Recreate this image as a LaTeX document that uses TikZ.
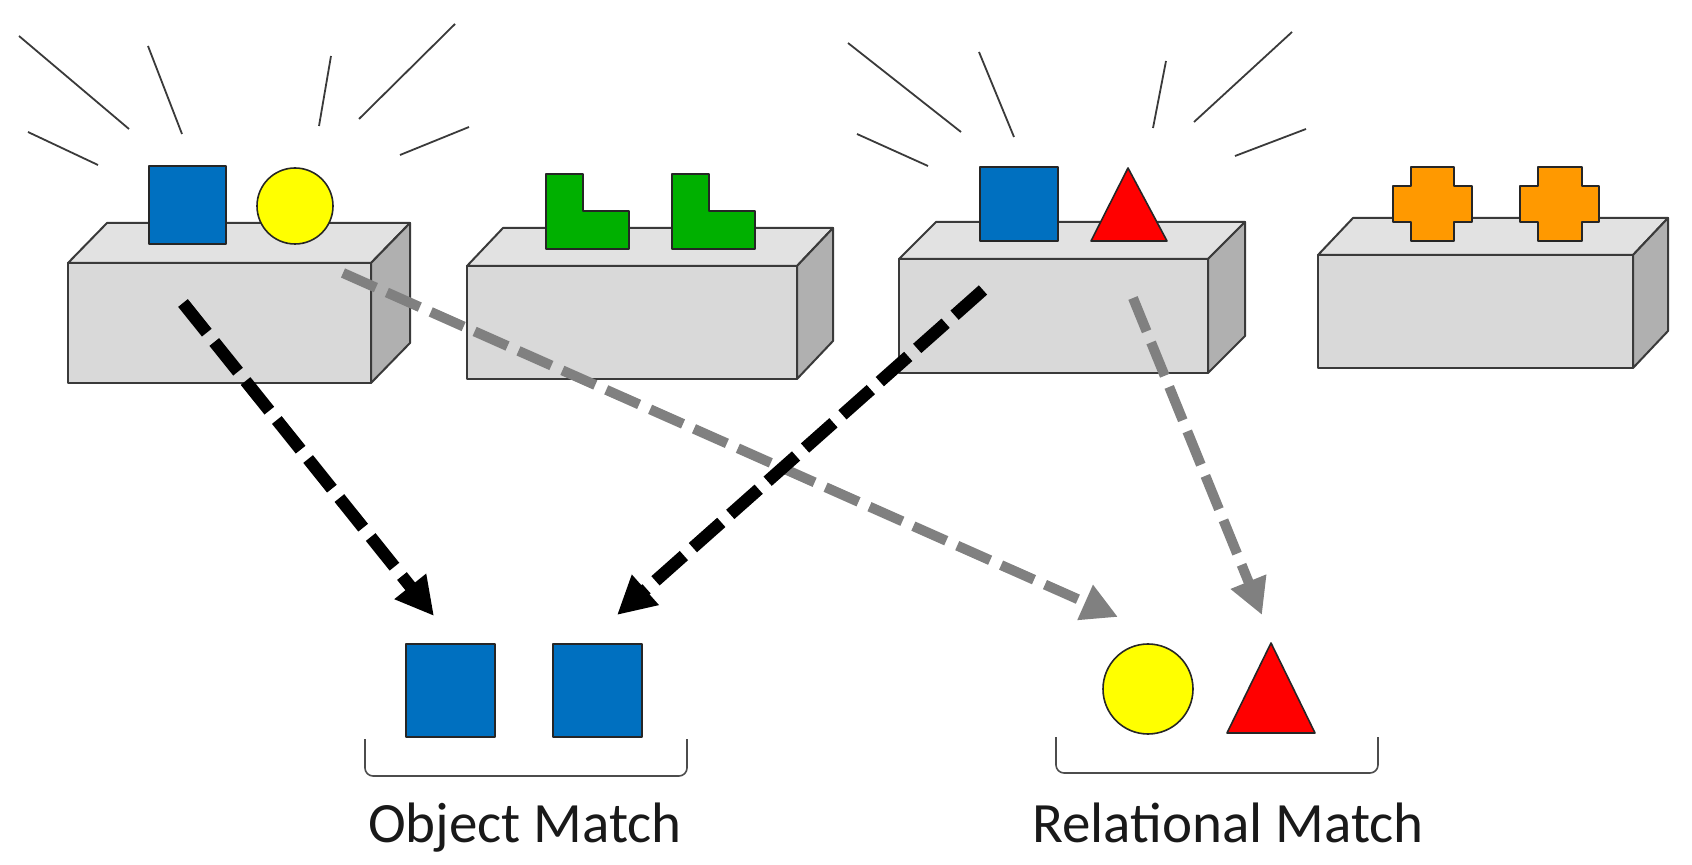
\documentclass[tikz,border=0pt]{standalone}
\usepackage{fontspec}
\setmainfont{Carlito}
\usetikzlibrary{arrows.meta}
\definecolor{cblue}{HTML}{0070C0}
\definecolor{cyellow}{HTML}{FFFF00}
\definecolor{cred}{HTML}{FF0000}
\definecolor{cgreen}{HTML}{00B000}
\definecolor{corange}{HTML}{FF9900}
\definecolor{cfront}{HTML}{D9D9D9}
\definecolor{ctop}{HTML}{E2E2E2}
\definecolor{cside}{HTML}{B0B0B0}
\definecolor{cgrayarrow}{HTML}{808080}
\definecolor{cline}{HTML}{3A3A3A}
\tikzset{
  boxface/.style={draw=cline, line width=1pt, line join=round},
  shapeout/.style={draw=black!85, line width=0.8pt, line join=round},
  rayline/.style={draw=cline, line width=0.9pt},
  bracket/.style={draw=black!70, line width=0.8pt, rounded corners=4pt},
  blackarrow/.style={draw=black, line width=6.2pt, dash pattern=on 19pt off 6pt,
    -{Triangle[length=19pt,width=19pt]}},
  grayarrow/.style={draw=cgrayarrow, line width=5pt, dash pattern=on 18pt off 6pt,
    -{Triangle[length=18pt,width=18pt]}},
  label/.style={font=\fontsize{28.5}{32}\selectfont, anchor=base, inner sep=0pt, text=black!90},
}
\newcommand{\drawprism}[6]{%
  \filldraw[boxface, fill=cfront] (#1,#2) rectangle (#3,#4);
  \filldraw[boxface, fill=ctop] (#1,#2) -- (#1+#5,#2-#6) -- (#3+#5,#2-#6) -- (#3,#2) -- cycle;
  \filldraw[boxface, fill=cside] (#3,#2) -- (#3+#5,#2-#6) -- (#3+#5,#4-#6) -- (#3,#4) -- cycle;
}
\newcommand{\drawcross}[6]{%
  \filldraw[shapeout, fill=corange] (#2,#5) -- (#3,#5) -- (#3,186) -- (#4,186) -- (#4,222) -- (#3,222)
    -- (#3,#6) -- (#2,#6) -- (#2,222) -- (#1,222) -- (#1,186) -- (#2,186) -- cycle;
}
\begin{document}
\begin{tikzpicture}[x=0.5pt,y=-0.5pt]
\useasboundingbox (0,0) rectangle (1692,865);
% rays box 1
\draw[rayline] (19,36) -- (129,129);
\draw[rayline] (148,46) -- (182,134);
\draw[rayline] (28,132) -- (98,165);
\draw[rayline] (331,56) -- (319,126);
\draw[rayline] (455,24) -- (359,119);
\draw[rayline] (469,127) -- (400,155);
% rays box 3
\draw[rayline] (848,43) -- (961,132);
\draw[rayline] (979,52) -- (1014,137);
\draw[rayline] (857,134) -- (928,166);
\draw[rayline] (1166,61) -- (1153,128);
\draw[rayline] (1292,32) -- (1194,122);
\draw[rayline] (1306,129) -- (1235,156);
% boxes
\drawprism{68}{263}{371}{383}{39}{40}
\drawprism{467}{266}{797}{379}{36}{38}
\drawprism{899}{259}{1208}{373}{37}{37}
\drawprism{1318}{255}{1633}{368}{35}{37}
% shapes on box 1
\filldraw[shapeout, fill=cblue] (149,166) rectangle (226,244);
\filldraw[shapeout, fill=cyellow] (295,206) circle (38);
% shapes on box 2
\filldraw[shapeout, fill=cgreen] (546,174) -- (583,174) -- (583,211) -- (629,211) -- (629,249) -- (546,249) -- cycle;
\filldraw[shapeout, fill=cgreen] (672,174) -- (709,174) -- (709,211) -- (755,211) -- (755,249) -- (672,249) -- cycle;
% shapes on box 3
\filldraw[shapeout, fill=cblue] (980,167) rectangle (1058,241);
\filldraw[shapeout, fill=cred] (1128,168) -- (1167,241) -- (1091,241) -- cycle;
% shapes on box 4
\drawcross{1393}{1411}{1454}{1472}{167}{241}
\drawcross{1520}{1538}{1582}{1599}{167}{241}
% bottom shapes
\filldraw[shapeout, fill=cblue] (406,644) rectangle (495,737);
\filldraw[shapeout, fill=cblue] (553,644) rectangle (642,737);
\filldraw[shapeout, fill=cyellow] (1148,689) circle (45);
\filldraw[shapeout, fill=cred] (1271,643) -- (1315,733) -- (1227,733) -- cycle;
% brackets
\draw[bracket] (365,739) -- (365,776) -- (687,776) -- (687,739);
\draw[bracket] (1056,737) -- (1056,773) -- (1378,773) -- (1378,737);
% labels
\node[label] (objlabel) at (525,842) {Object Match};
\node[label] (rellabel) at (1228,842) {Relational Match};
% arrow end points
\coordinate (b1black) at (183,303);
\coordinate (b1gray) at (343,273);
\coordinate (b3black) at (983,290);
\coordinate (b3gray) at (1133,298);
\coordinate (objtipA) at (434,616);
\coordinate (objtipB) at (617,615);
\coordinate (reltipA) at (1118,617);
\coordinate (reltipB) at (1262,615);
% arrows
\draw[grayarrow] (b1gray) -- (reltipA);
\draw[grayarrow] (b3gray) -- (reltipB);
\draw[blackarrow] (b1black) -- (objtipA);
\draw[blackarrow] (b3black) -- (objtipB);
\end{tikzpicture}
\end{document}
